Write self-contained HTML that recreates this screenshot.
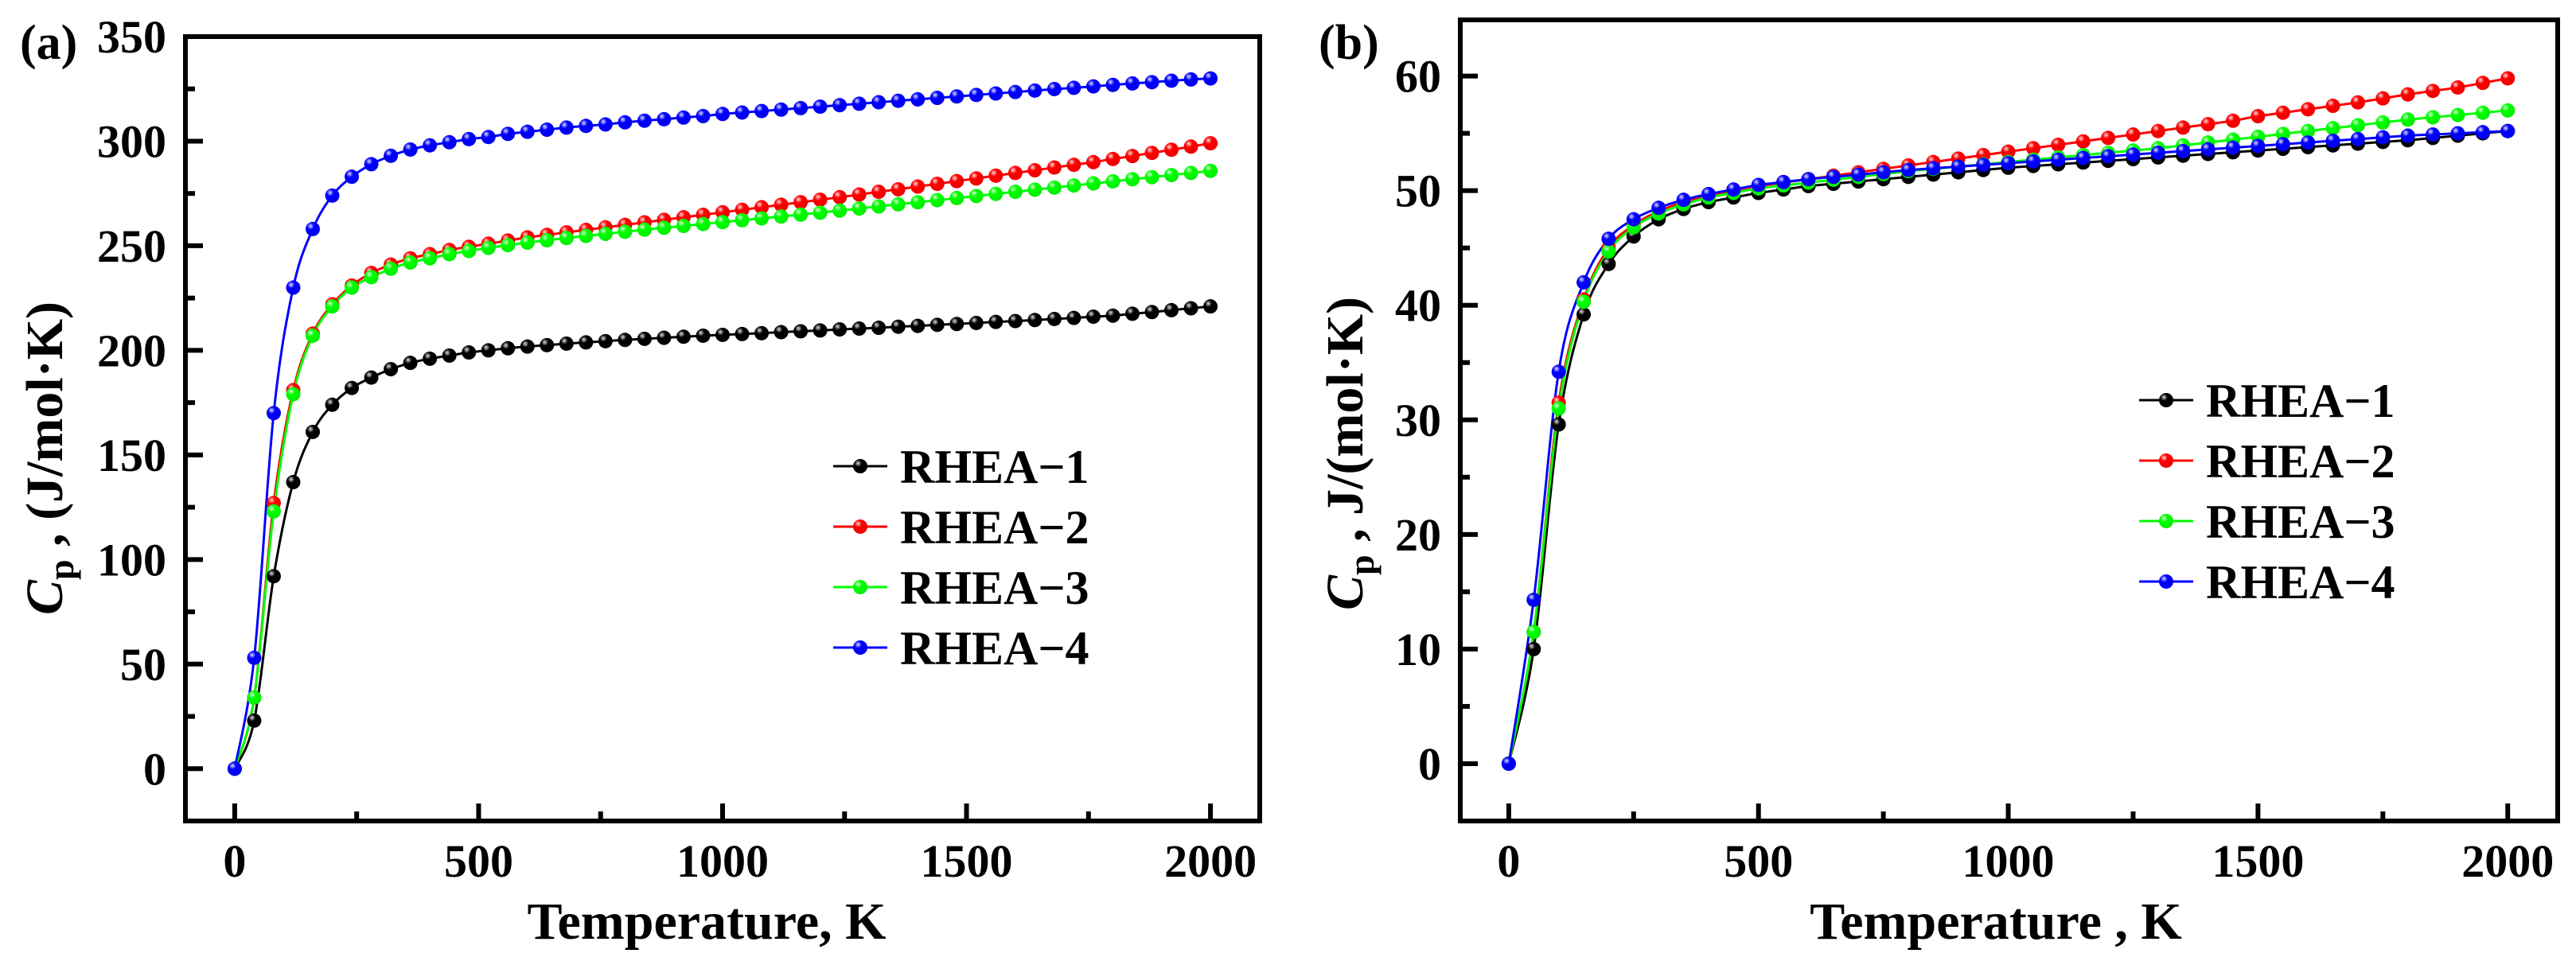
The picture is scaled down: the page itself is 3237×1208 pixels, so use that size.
<!DOCTYPE html>
<html><head><meta charset="utf-8"><style>
html,body{margin:0;padding:0;background:#fff;}
svg{display:block;font-family:"Liberation Serif",serif;font-weight:bold;}
</style></head><body>
<svg id="fig" width="3237" height="1208" viewBox="0 0 3237 1208" xmlns="http://www.w3.org/2000/svg">
<defs>
<radialGradient id="gk" cx="0.35" cy="0.3" r="0.7"><stop offset="0" stop-color="#ddd"/><stop offset="0.35" stop-color="#000"/><stop offset="1" stop-color="#000"/></radialGradient>
<radialGradient id="gr" cx="0.35" cy="0.3" r="0.7"><stop offset="0" stop-color="#fdd"/><stop offset="0.35" stop-color="#f00"/><stop offset="1" stop-color="#e00"/></radialGradient>
<radialGradient id="gg" cx="0.35" cy="0.3" r="0.7"><stop offset="0" stop-color="#dfd"/><stop offset="0.35" stop-color="#0f0"/><stop offset="1" stop-color="#0e0"/></radialGradient>
<radialGradient id="gb" cx="0.35" cy="0.3" r="0.7"><stop offset="0" stop-color="#ddf"/><stop offset="0.35" stop-color="#00f"/><stop offset="1" stop-color="#00e"/></radialGradient>
</defs>
<text x="25" y="74" font-size="62">(a)</text>
<text x="1657" y="74" font-size="62">(b)</text>
<text x="888" y="1180" font-size="66" text-anchor="middle">Temperature, K</text>
<text x="2508" y="1180" font-size="66" text-anchor="middle">Temperature , K</text>
<text transform="translate(78,576) rotate(-90)" font-size="66" text-anchor="middle"><tspan font-style="italic">C</tspan><tspan font-size="46" dy="14">p</tspan><tspan dy="-14"> , (J/mol·K)</tspan></text>
<text transform="translate(1712,570) rotate(-90)" font-size="66" text-anchor="middle"><tspan font-style="italic">C</tspan><tspan font-size="46" dy="14">p</tspan><tspan dy="-14"> , J/(mol·K)</tspan></text>
<g id="plots"></g>
</svg>
<script>
// ---- Panel (a) data ----
const tempsA = [];
for (let t = 0; t <= 2000; t += 40) tempsA.push(t);
const rhea1A = [0,23,92,137,161,174,182,187,191,194,196,197.5,199,200,201,201.8,202.5,203.2,203.8,204.4,205,205.5,206,206.5,207,207.4,207.8,208.2,208.7,209.1,209.5,210,210.4,210.8,211.3,211.7,212.2,212.6,213.1,213.6,214,214.5,215,215.5,216.1,216.6,217.5,218.3,219.2,220.1,221];
const rhea2A = [0,34,127,181,208,222,231,237,241,244,246,248,249.5,251,252.5,254,255.2,256.4,257.6,258.8,260,261.2,262.4,263.6,264.8,266,267.2,268.4,269.6,270.8,272,273.2,274.5,275.8,277,278.3,279.6,280.9,282.2,283.5,284.8,286.1,287.4,288.7,290,291.5,292.9,294.4,295.9,297.4,299];
const rhea3A = [0,34,123,179,207,221,230,235,239,242,244,246,247.5,249,250.3,251.5,252.6,253.7,254.7,255.7,256.7,257.7,258.6,259.5,260.4,261.3,262.2,263.1,264,264.9,265.8,266.8,267.8,268.8,269.8,270.8,271.8,272.8,273.8,274.8,275.8,276.8,277.8,278.8,279.8,280.8,281.8,282.8,283.8,284.8,285.8];
const rhea4A = [0,53,170,230,258,274,283,289,293,296,298,299.5,301,302,303.5,304.5,305.5,306.5,307.3,308,309,309.8,310.5,311.3,312,313,313.7,314.4,315.1,315.8,316.5,317.2,317.9,318.6,319.3,320,320.7,321.4,322.1,322.8,323.5,324.2,324.9,325.5,326.2,326.9,327.6,328.2,328.9,329.5,330];
const yTicksA = [0,50,100,150,200,250,300,350];
const xTicks = [0,500,1000,1500,2000];
// ---- Panel (b) data ----
const tempsB = [];
for (let t = 0; t <= 2000; t += 50) tempsB.push(t);
const rhea1B = [0,10,29.6,39.2,43.6,46,47.5,48.4,49,49.4,49.8,50.1,50.4,50.6,50.8,51,51.2,51.4,51.6,51.8,52,52.15,52.3,52.45,52.6,52.75,52.9,53.05,53.2,53.35,53.5,53.65,53.8,53.95,54.1,54.25,54.4,54.6,54.8,55,55.2];
const rhea2B = [0,11.5,31.5,40.5,45,47,48.2,49,49.6,50,50.4,50.7,51,51.3,51.6,51.9,52.2,52.5,52.8,53.1,53.4,53.7,54,54.3,54.6,54.9,55.2,55.5,55.8,56.1,56.5,56.8,57.1,57.4,57.7,58.05,58.4,58.7,59,59.4,59.8];
const rhea3B = [0,11.5,31,40.3,44.7,46.8,48,48.8,49.4,49.8,50.2,50.45,50.7,50.95,51.2,51.45,51.7,51.9,52.1,52.3,52.5,52.7,52.9,53.1,53.3,53.5,53.7,53.95,54.2,54.45,54.7,54.95,55.2,55.45,55.7,55.95,56.2,56.4,56.6,56.8,57];
const rhea4B = [0,14.3,34.2,42,45.8,47.5,48.5,49.2,49.7,50.1,50.5,50.75,51,51.2,51.4,51.6,51.8,51.95,52.1,52.25,52.4,52.55,52.7,52.85,53,53.15,53.3,53.45,53.6,53.75,53.9,54.05,54.2,54.35,54.5,54.65,54.8,54.9,55,55.1,55.2];
const yTicksB = [0,10,20,30,40,50,60];
const seriesNames = ["RHEA−1","RHEA−2","RHEA−3","RHEA−4"];

const NS = "http://www.w3.org/2000/svg";
const root = document.getElementById("plots");
const colors = ["#000","#f00","#0f0","#00f"];
const grads = ["url(#gk)","url(#gr)","url(#gg)","url(#gb)"];
function mk(tag, attrs, parent){const e=document.createElementNS(NS,tag);for(const k in attrs)e.setAttribute(k,attrs[k]);(parent||root).appendChild(e);return e;}

function smoothPath(pts){
  let d="M"+pts[0][0]+","+pts[0][1];
  for(let i=0;i<pts.length-1;i++){
    const p0=pts[Math.max(0,i-1)],p1=pts[i],p2=pts[i+1],p3=pts[Math.min(pts.length-1,i+2)];
    const c1x=p1[0]+(p2[0]-p0[0])/6,c1y=p1[1]+(p2[1]-p0[1])/6;
    const c2x=p2[0]-(p3[0]-p1[0])/6,c2y=p2[1]-(p3[1]-p1[1])/6;
    d+=" C"+c1x+","+c1y+" "+c2x+","+c2y+" "+p2[0]+","+p2[1];
  }
  return d;
}

function panel(cfg){
  const g = mk("g",{});
  
  
  const L=cfg.L,R=cfg.R,T=cfg.T,B=cfg.B;
  const sx=v=>L+(v-cfg.xmin)/(cfg.xmax-cfg.xmin)*(R-L);
  const sy=v=>B-(v-cfg.ymin)/(cfg.ymax-cfg.ymin)*(B-T);
  cfg.series.forEach((s,i)=>{
    const pts=s.map((v,j)=>[sx(cfg.temps[j]),sy(v)]);
    const p=mk("path",{d:smoothPath(pts),fill:"none",stroke:colors[i],"stroke-width":3},g);
    
    
  });
  cfg.series.forEach((s,i)=>{
    s.forEach((v,j)=>{
      const c=mk("circle",{cx:sx(cfg.temps[j]),cy:sy(v),r:9,fill:grads[i]},g);
      
      
    });
  });
  const fr=mk("rect",{x:L,y:T,width:R-L,height:B-T,fill:"none",stroke:"#000","stroke-width":6},g);
  
  
  cfg.yTicks.forEach((v,k)=>{
    const y=sy(v);
    const t=mk("line",{x1:L,x2:L+22,y1:y,y2:y,stroke:"#000","stroke-width":6},g);
    
    
    const lb=mk("text",{x:L-24,y:y+20,"font-size":58,"text-anchor":"end"},g);
    lb.textContent=v;
    
    
    if(k<cfg.yTicks.length-1){
      const ym=sy((v+cfg.yTicks[k+1])/2);
      const m=mk("line",{x1:L,x2:L+12,y1:ym,y2:ym,stroke:"#000","stroke-width":6},g);
      
      
    }
  });
  xTicks.forEach((v,k)=>{
    const x=sx(v);
    const t=mk("line",{x1:x,x2:x,y1:B,y2:B-22,stroke:"#000","stroke-width":6},g);
    
    
    const lb=mk("text",{x:x,y:B+70,"font-size":58,"text-anchor":"middle"},g);
    lb.textContent=v;
    
    
    if(k<xTicks.length-1){
      const xm=sx(v+250);
      const m=mk("line",{x1:xm,x2:xm,y1:B,y2:B-12,stroke:"#000","stroke-width":6},g);
      
      
    }
  });
  seriesNames.forEach((n,i)=>{
    const y=cfg.legY+i*76;
    const lg=mk("g",{},g);
    
    
    mk("line",{x1:cfg.legX,x2:cfg.legX+68,y1:y,y2:y,stroke:colors[i],"stroke-width":3},lg);
    mk("circle",{cx:cfg.legX+34,cy:y,r:9,fill:grads[i]},lg);
    const tx=mk("text",{x:cfg.legX+84,y:y+21,"font-size":60},lg);
    tx.textContent=n;
  });
}

panel({name:"panel-a-chart",L:233,R:1583,T:46,B:1032,xmin:-101,xmax:2101,ymin:-25,ymax:350,
  temps:tempsA,series:[rhea1A,rhea2A,rhea3A,rhea4A],yTicks:yTicksA,legX:1047,legY:586});
panel({name:"panel-b-chart",L:1835,R:3214,T:25,B:1032,xmin:-97,xmax:2100,ymin:-5,ymax:64.9,
  temps:tempsB,series:[rhea1B,rhea2B,rhea3B,rhea4B],yTicks:yTicksB,legX:2688,legY:503});
</script>
</body></html>
